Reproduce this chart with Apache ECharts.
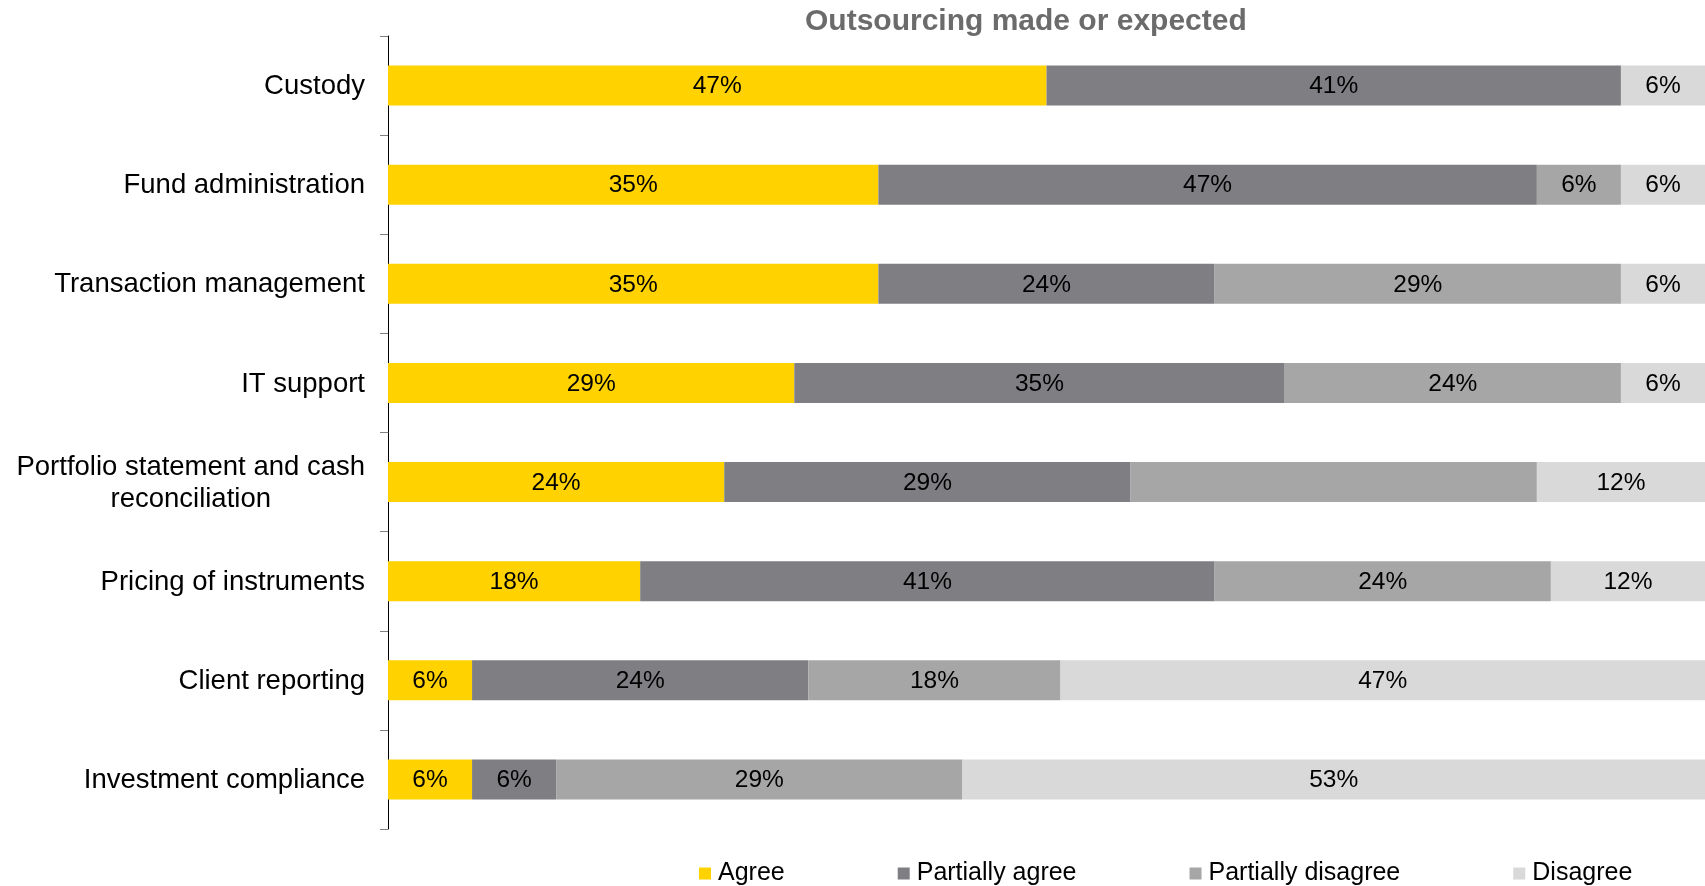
<!DOCTYPE html>
<html>
<head>
<meta charset="utf-8">
<title>Outsourcing made or expected</title>
<script src="https://cdn.jsdelivr.net/npm/echarts@6/dist/echarts.min.js"></script>
<style>
  html, body { margin: 0; padding: 0; background: #fff; }
  #chart { width: 1705px; height: 886px; }
</style>
</head>
<body>
<div id="chart"></div>
<script>
// Functions and the share of respondents (%) per answer
const categories = [
  'Custody',
  'Fund administration',
  'Transaction management',
  'IT support',
  'Portfolio statement and cash\nreconciliation',
  'Pricing of instruments',
  'Client reporting',
  'Investment compliance'
];
const seriesNames = ['Agree', 'Partially agree', 'Partially disagree', 'Disagree'];
const agree             = [47, 35, 35, 29, 24, 18, 6, 6];
const partiallyAgree    = [41, 47, 24, 35, 29, 41, 24, 6];
const partiallyDisagree = [0, 6, 29, 24, 29, 24, 18, 29];
const disagree          = [6, 6, 6, 6, 12, 12, 47, 53];
// Cells printed without a value label: [series index, category index]
const unlabeledCells = [[2, 4]];

const colors = ['#FFD200', '#7F7E83', '#A6A6A6', '#D9D9D9'];
const FONT = '"Liberation Sans", Arial, Helvetica, sans-serif';

const values = [agree, partiallyAgree, partiallyDisagree, disagree];

const series = values.map((arr, si) => ({
  name: seriesNames[si],
  type: 'bar',
  stack: 'total',
  barWidth: 40,
  itemStyle: { color: colors[si] },
  label: {
    show: true,
    position: 'inside',
    offset: [0, 1],
    color: '#000',
    fontFamily: FONT,
    fontSize: 24.5,
    formatter: p => (p.value ? p.value + '%' : '')
  },
  data: arr.map((v, ci) => {
    const hidden = unlabeledCells.some(c => c[0] === si && c[1] === ci);
    return hidden ? { value: v, label: { show: false } } : v;
  })
}));

const chart = echarts.init(document.getElementById('chart'), null, { renderer: 'canvas' });
chart.setOption({
  animation: false,
  backgroundColor: '#fff',
  title: {
    text: 'Outsourcing made or expected',
    left: 805,
    top: 7,
    padding: 0,
    textStyle: { fontFamily: FONT, fontSize: 30, fontWeight: 'bold', color: '#6B6B6B' }
  },
  legend: {
    data: seriesNames,
    left: 699,
    top: 861,
    itemGap: 113,
    itemWidth: 12,
    itemHeight: 12,
    icon: 'rect',
    padding: 0,
    textStyle: { fontFamily: FONT, fontSize: 25, color: '#000', padding: [0, 0, 0, 2] }
  },
  grid: { left: 388, right: 0, top: 36, bottom: 57, containLabel: false },
  xAxis: {
    type: 'value',
    min: 0,
    max: 94,
    show: false,
    splitLine: { show: false }
  },
  yAxis: {
    type: 'category',
    data: categories,
    inverse: true,
    axisLine: { show: true, lineStyle: { color: '#000', width: 1 } },
    axisTick: { show: true, length: 8, lineStyle: { color: '#808080', width: 1 } },
    axisLabel: {
      margin: 23,
      fontFamily: FONT,
      fontSize: 27.5,
      color: '#000',
      lineHeight: 32,
      formatter: v => v.split('\n').map(s => '{c|' + s + '}').join('\n'),
      rich: {
        c: { align: 'center', fontFamily: FONT, fontSize: 27.5, color: '#000', lineHeight: 32, padding: [2, 0, 0, 0] }
      }
    }
  },
  series: series
});
</script>
</body>
</html>
